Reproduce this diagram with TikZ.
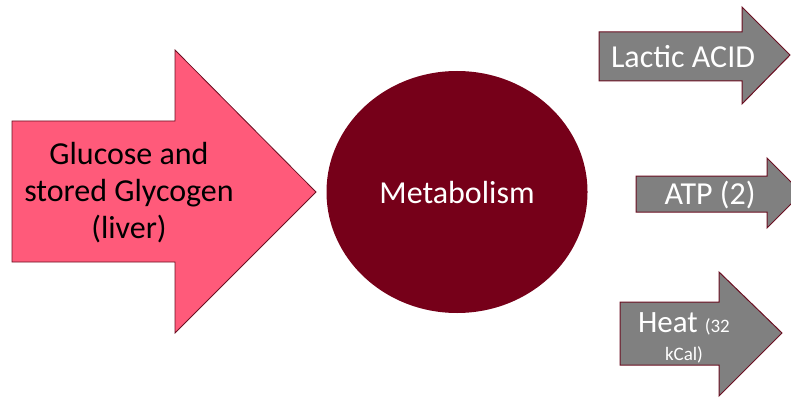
\documentclass[tikz,border=0pt]{standalone}
\usepackage{fontspec}
\setmainfont{Carlito}
\definecolor{pinkfill}{HTML}{FF5A7A}
\definecolor{maroon}{HTML}{760019}
\definecolor{edge}{HTML}{6B0F22}
\definecolor{grayfill}{HTML}{808080}
\tikzset{
  bigarrow/.style={fill=pinkfill,draw=edge,line width=0.8pt,line join=miter},
  outarrow/.style={fill=grayfill,draw=edge,line width=1pt,line join=miter},
  lbl/.style={inner sep=0pt,align=center,font=\fontsize{32}{37}\selectfont},
  wlbl/.style={lbl,text=white}
}
\begin{document}
\begin{tikzpicture}[x=1pt,y=-1pt]
\useasboundingbox (0,0) rectangle (791,398);
% input arrow
\draw[bigarrow] (12,121) -- (175,121) -- (175,50) -- (316,192) -- (175,333) -- (175,262) -- (12,262) -- cycle;
\node[lbl] (glucose) at (129,193) {Glucose and\\stored Glycogen\\(liver)};
% metabolism
\fill[maroon] (457,192) ellipse [x radius=130.5, y radius=121];
\node[wlbl] (metab) at (457,193) {Metabolism};
% outputs
\draw[outarrow] (599,32) -- (742,32) -- (742,7) -- (790,55) -- (742,104) -- (742,81) -- (599,81) -- cycle;
\node[wlbl] (lactic) at (683,57) {Lactic ACID};
\draw[outarrow] (636,176) -- (767,176) -- (767,158) -- (802,193) -- (767,228) -- (767,212) -- (636,212) -- cycle;
\node[wlbl] (atp) at (710,195) {ATP (2)};
\draw[outarrow] (620,302) -- (719,302) -- (719,272) -- (782,333) -- (719,396) -- (719,365) -- (620,365) -- cycle;
\node[wlbl,anchor=base] (heat) at (684,332) {\fontsize{31}{34}\selectfont Heat \fontsize{19}{22}\selectfont(32};
\node[wlbl,anchor=base,font=\fontsize{19}{22}\selectfont] (kcal) at (684,360) {kCal)};
\end{tikzpicture}
\end{document}
